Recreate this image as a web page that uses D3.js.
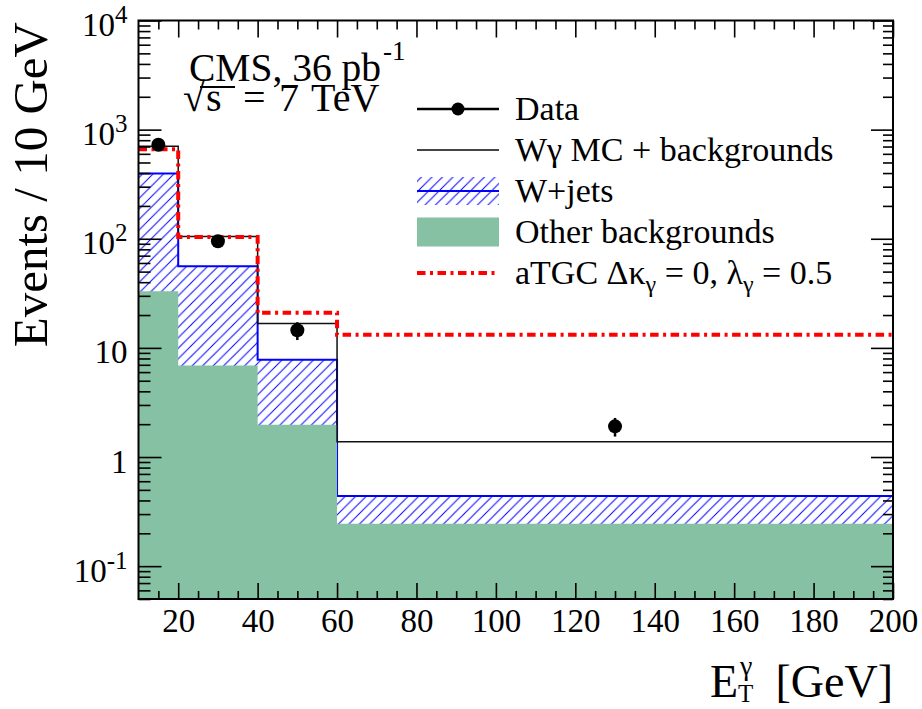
<!DOCTYPE html>
<html>
<head>
<meta charset="utf-8">
<script src="https://cdn.jsdelivr.net/npm/d3@7/dist/d3.min.js"></script>
<style>
  body { margin: 0; background: #fff; }
  svg text { font-family: 'Liberation Serif', 'Times New Roman', serif !important; fill: #000; }
</style>
</head>
<body>
<svg id="chart" width="922" height="709"></svg>
<script>
// bins in E_T^gamma [GeV]
const binEdges = [10, 20, 40, 60, 200];
// stacked histograms (events / 10 GeV)
const otherBkg = [33, 6.9, 1.98, 0.244];
const wjetsStack = [397, 56, 7.8, 0.44];
const mcTotal = [706, 105, 16.7, 1.38];
const atgc = [660, 104, 21, 13.2];
// data points
const dataX = [15, 30, 50, 130];
const dataY = [728, 95, 14.5, 1.91];
const dataErr = [27, 6.9, 2.7, 0.37];
// ticks
const xMajor = [20, 40, 60, 80, 100, 120, 140, 160, 180, 200];
const yMajor = [0.1, 1, 10, 100, 1000, 10000];
const legendLabels = ['Data', 'Wγ MC + backgrounds', 'W+jets', 'Other backgrounds', 'aTGC'];

function drawChart(){
    const svg = d3.select('#chart');
    svg.selectAll('*').remove();

    const width = 922, height = 709;
    const margin = {top: 20.5, left: 138.5, right: 29, bottom: 110};
    const w = width - margin.left - margin.right;
    const h = height - margin.top - margin.bottom;

    const x = d3.scaleLinear().domain([10, 200]).range([0, w]);
    const y = d3.scaleLog().domain([0.05, 1e4]).range([h, 0]);

    const hs = 10.5;
    const defs = svg.append('defs');
    const pat = defs.append('pattern')
        .attr('id', 'hatch')
        .attr('patternUnits', 'userSpaceOnUse')
        .attr('width', hs).attr('height', hs);
    pat.append('path')
        .attr('d', `M0,${hs} L${hs},0 M-2,2 L2,-2 M${hs-2},${hs+2} L${hs+2},${hs-2}`)
        .attr('stroke', '#0000ff')
        .attr('stroke-width', 1);
    defs.append('clipPath').attr('id', 'clip')
        .append('rect').attr('width', w).attr('height', h);

    const g = svg.append('g').attr('transform', `translate(${margin.left}, ${margin.top})`);
    const plot = g.append('g').attr('clip-path', 'url(#clip)');

    const steps = vals => vals.map((v, i) => [binEdges[i], v])
        .concat([[binEdges[binEdges.length - 1], vals[vals.length - 1]]]);

    const area = d3.area().curve(d3.curveStepAfter)
        .x(d => x(d[0])).y0(h).y1(d => y(d[1]));
    const line = d3.line().curve(d3.curveStepAfter)
        .x(d => x(d[0])).y(d => y(d[1]));

    // W+jets (hatched)
    plot.append('path').attr('d', area(steps(wjetsStack)))
        .attr('fill', 'url(#hatch)');
    plot.append('path').attr('d', line(steps(wjetsStack)))
        .attr('fill', 'none').attr('stroke', '#0000ff').attr('stroke-width', 2);

    // other backgrounds
    plot.append('path').attr('d', area(steps(otherBkg)))
        .attr('fill', '#86c1a4');

    // total MC
    plot.append('path').attr('d', line(steps(mcTotal)))
        .attr('fill', 'none').attr('stroke', '#111').attr('stroke-width', 1.5);

    // aTGC
    plot.append('path').attr('d', line(steps(atgc)))
        .attr('fill', 'none').attr('stroke', '#ff0000').attr('stroke-width', 4)
        .attr('stroke-dasharray', '8.5,4.5,3,4.5');

    // data
    const pts = dataX.map((d, i) => ({x: d, y: dataY[i], e: dataErr[i]}));
    plot.selectAll('.err').data(pts).enter().append('line')
        .attr('x1', d => x(d.x)).attr('x2', d => x(d.x))
        .attr('y1', d => y(d.y + d.e)).attr('y2', d => y(d.y - d.e))
        .attr('stroke', '#000').attr('stroke-width', 2.5);
    plot.selectAll('.pt').data(pts).enter().append('circle')
        .attr('cx', d => x(d.x)).attr('cy', d => y(d.y)).attr('r', 7)
        .attr('fill', '#000');

    // axes
    const xMinor = d3.range(15, 200, 5).filter(v => v % 20 !== 0);
    const yMinor = [];
    [-2, -1, 0, 1, 2, 3].forEach(e => d3.range(2, 10).forEach(k => {
        const v = k * Math.pow(10, e);
        if (v >= 0.05 && v <= 1e4) yMinor.push(v);
    }));

    const tickStyle = sel => {
        sel.select('.domain').remove();
        sel.selectAll('line').attr('stroke', '#000').attr('stroke-width', 1.6);
    };

    g.append('g').attr('transform', `translate(0,${h})`)
        .call(d3.axisBottom(x).tickValues(xMajor).tickSizeInner(-16).tickSizeOuter(0).tickPadding(10))
        .call(tickStyle)
        .selectAll('text').attr('font-size', 33);
    g.append('g').attr('transform', `translate(0,${h})`)
        .call(d3.axisBottom(x).tickValues(xMinor).tickSizeInner(-8).tickSizeOuter(0).tickFormat(''))
        .call(tickStyle);
    g.append('g')
        .call(d3.axisTop(x).tickValues(xMajor).tickSizeInner(-17).tickSizeOuter(0).tickFormat(''))
        .call(tickStyle);
    g.append('g')
        .call(d3.axisTop(x).tickValues(xMinor).tickSizeInner(-9).tickSizeOuter(0).tickFormat(''))
        .call(tickStyle);

    const yAx = g.append('g')
        .call(d3.axisLeft(y).tickValues(yMajor).tickSizeInner(-23).tickSizeOuter(0).tickPadding(11))
        .call(tickStyle);
    yAx.selectAll('text').each(function(d){
        const t = d3.select(this);
        t.text('').attr('font-size', 33).attr('dy', 15);
        if (d === 1 || d === 10) {
            t.text(d);
        } else {
            const ex = Math.round(Math.log10(d));
            t.append('tspan').text('10');
            t.append('tspan').attr('dy', -13).attr('font-size', 25).text(ex < 0 ? '-' + (-ex) : ex);
        }
    });
    g.append('g')
        .call(d3.axisLeft(y).tickValues(yMinor).tickSizeInner(-12).tickSizeOuter(0).tickFormat(''))
        .call(tickStyle);
    g.append('g').attr('transform', `translate(${w},0)`)
        .call(d3.axisRight(y).tickValues(yMajor).tickSizeInner(-22).tickSizeOuter(0).tickFormat(''))
        .call(tickStyle);
    g.append('g').attr('transform', `translate(${w},0)`)
        .call(d3.axisRight(y).tickValues(yMinor).tickSizeInner(-10).tickSizeOuter(0).tickFormat(''))
        .call(tickStyle);

    g.append('rect').attr('width', w).attr('height', h)
        .attr('fill', 'none').attr('stroke', '#000').attr('stroke-width', 2);

    // axis titles
    svg.append('text')
        .attr('transform', 'translate(47,22) rotate(-90)')
        .attr('text-anchor', 'end')
        .attr('font-size', 49)
        .text('Events / 10 GeV');

    svg.append('text').attr('x', 710).attr('y', 697).attr('font-size', 46).text('E');
    svg.append('text').attr('x', 738).attr('y', 702).attr('font-size', 25).text('T');
    svg.append('text').attr('x', 740).attr('y', 675).attr('font-size', 28).text('γ');
    svg.append('text').attr('x', 893).attr('y', 697).attr('text-anchor', 'end')
        .attr('font-size', 46).text('[GeV]');

    // CMS label
    const cms = svg.append('text').attr('x', 189).attr('y', 81).attr('font-size', 39.5);
    cms.append('tspan').text('CMS, 36 pb');
    cms.append('tspan').attr('dx', 2).attr('dy', -21).attr('font-size', 27).text('-1');

    const sy = 111;
    svg.append('text').attr('x', 183).attr('y', sy).attr('font-size', 40).text('√');
    svg.append('text').attr('x', 206).attr('y', sy).attr('font-size', 40).text('s');
    svg.append('text').attr('x', 243).attr('y', sy).attr('font-size', 40).text('=');
    svg.append('text').attr('x', 279).attr('y', sy).attr('font-size', 40).text('7');
    svg.append('text').attr('x', 311).attr('y', sy).attr('font-size', 40).text('TeV');
    svg.append('line')
        .attr('x1', 200).attr('x2', 235)
        .attr('y1', 87).attr('y2', 87)
        .attr('stroke', '#000').attr('stroke-width', 1.8);

    // legend
    const lx0 = 417, lx1 = 499, tx = 515, ly0 = 109, lstep = 41;
    const leg = svg.append('g');
    legendLabels.forEach((lab, i) => {
        const cy = ly0 + i * lstep;
        if (i === 0) {
            leg.append('line').attr('x1', lx0).attr('x2', lx1).attr('y1', cy).attr('y2', cy)
                .attr('stroke', '#000').attr('stroke-width', 2.5);
            leg.append('circle').attr('cx', (lx0 + lx1) / 2).attr('cy', cy).attr('r', 6.5).attr('fill', '#000');
        } else if (i === 1) {
            leg.append('line').attr('x1', lx0).attr('x2', lx1).attr('y1', cy).attr('y2', cy)
                .attr('stroke', '#444').attr('stroke-width', 2);
        } else if (i === 2) {
            leg.append('rect').attr('x', lx0).attr('y', cy - 14).attr('width', lx1 - lx0).attr('height', 28)
                .attr('fill', 'url(#hatch)');
            leg.append('line').attr('x1', lx0).attr('x2', lx1).attr('y1', cy).attr('y2', cy)
                .attr('stroke', '#0000ff').attr('stroke-width', 2);
        } else if (i === 3) {
            leg.append('rect').attr('x', lx0).attr('y', cy - 14.5).attr('width', lx1 - lx0).attr('height', 29)
                .attr('fill', '#86c1a4');
        } else {
            leg.append('line').attr('x1', lx0).attr('x2', lx1).attr('y1', cy).attr('y2', cy)
                .attr('stroke', '#ff0000').attr('stroke-width', 4)
                .attr('stroke-dasharray', '8.5,4.5,3,4.5');
        }
        const t = leg.append('text').attr('x', tx).attr('y', cy + 11).attr('font-size', 34);
        if (i === 4) {
            t.append('tspan').text('aTGC Δκ');
            t.append('tspan').attr('dy', 8).attr('font-size', 24).text('γ');
            t.append('tspan').attr('dy', -8).text(' = 0, λ');
            t.append('tspan').attr('dy', 8).attr('font-size', 24).text('γ');
            t.append('tspan').attr('dy', -8).text(' = 0.5');
        } else {
            t.text(lab);
        }
    });
}

drawChart();
</script>
</body>
</html>
